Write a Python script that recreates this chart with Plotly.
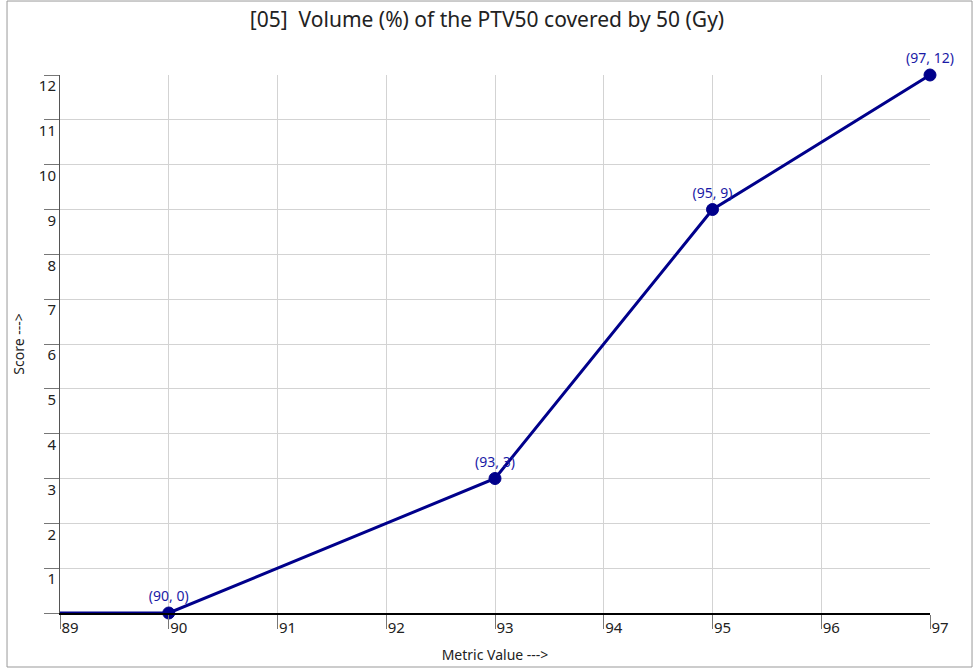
import plotly.graph_objects as go

# metric value vs score
metric_values = [89, 90, 93, 95, 97]
scores = [0, 0, 3, 9, 12]
point_labels = ["", "(90, 0)", "(93, 3)", "(95, 9)", "(97, 12)"]

x_ticks = list(range(89, 98))
y_ticks = list(range(0, 13))
y_tick_text = [""] + [str(v) for v in y_ticks[1:]]

title = "[05]  Volume (%) of the PTV50 covered by 50 (Gy)"
font_family = "Noto Sans, Open Sans, sans-serif"
line_color = "#00008B"

fig = go.Figure()

fig.add_trace(
    go.Scatter(
        x=metric_values,
        y=scores,
        mode="lines+markers+text",
        text=point_labels,
        textposition="top center",
        textfont=dict(color="#1a1aa6", size=14, family=font_family),
        line=dict(color=line_color, width=3),
        marker=dict(color=line_color, size=[0, 12, 12, 12, 12], opacity=1,
                    line=dict(color=line_color, width=1)),
        showlegend=False,
        cliponaxis=False,
    )
)

fig.update_xaxes(
    range=[89, 97],
    tickvals=x_ticks,
    ticks="outside",
    ticklen=14,
    tickcolor="#777777",
    ticklabelposition="outside right",
    tickfont=dict(size=15, color="#222222"),
    showgrid=True,
    gridcolor="#d3d3d3",
    zeroline=False,
    showline=True,
    linecolor="black",
    linewidth=2,
    title=dict(text="Metric Value --->", font=dict(size=14, color="#222222"), standoff=14),
    automargin=False,
)

fig.update_yaxes(
    range=[0, 12],
    tickvals=y_ticks,
    ticktext=y_tick_text,
    ticks="outside",
    ticklen=15,
    tickcolor="#777777",
    ticklabelposition="outside bottom",
    tickfont=dict(size=15, color="#222222"),
    showgrid=True,
    gridcolor="#d3d3d3",
    zeroline=False,
    showline=True,
    linecolor="#555555",
    linewidth=1,
    title=dict(text="Score --->", font=dict(size=14, color="#222222"), standoff=10),
    automargin=False,
)

# border around the whole figure
fig.add_shape(
    type="rect",
    xref="paper", yref="paper",
    x0=-0.0609, x1=1.0483, y0=-0.1004, y1=1.1375,
    line=dict(color="#999999", width=1),
    fillcolor="rgba(0,0,0,0)",
    layer="above",
)

fig.update_layout(
    width=974,
    height=668,
    margin=dict(l=60, r=44, t=75, b=55),
    paper_bgcolor="white",
    plot_bgcolor="white",
    font=dict(family=font_family, color="#222222"),
    title=dict(text=title, x=0.5, xanchor="center", y=0.97, yanchor="middle",
               font=dict(size=21, color="#222222")),
)

fig.write_html("out.html", config={"displayModeBar": False},
               post_script="document.body.style.margin='0';")
